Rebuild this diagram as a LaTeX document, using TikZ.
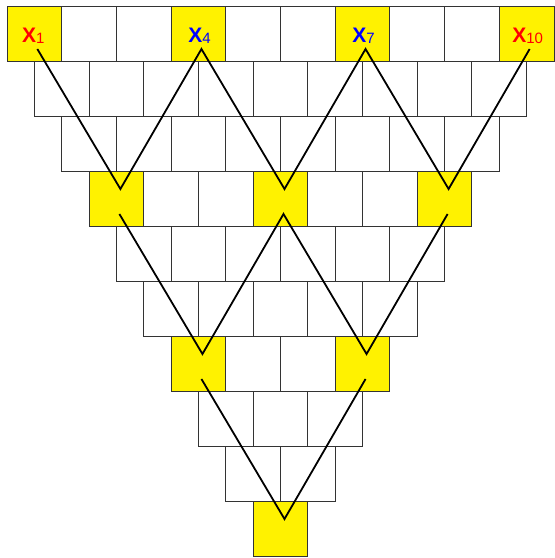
\documentclass[tikz,border=0pt]{standalone}
\usepackage{fontspec}
\setmainfont{Liberation Sans}
\usetikzlibrary{calc}
\tikzset{
  cell/.style={draw=black!80, line width=1pt, minimum width=54.7pt, minimum height=55pt,
    inner sep=0pt, outer sep=0pt, anchor=north west},
  vline/.style={line width=1.8pt, black, line join=miter},
  lab/.style={anchor=base, inner sep=0pt, font=\fontsize{21}{21}\selectfont\bfseries}
}
\newcommand{\lsub}[1]{\raisebox{-1pt}{\fontsize{15}{15}\selectfont\mdseries #1}}
\begin{document}
\begin{tikzpicture}[x=1pt,y=-1pt]
\useasboundingbox (0,0) rectangle (555,558);
\foreach \r in {0,...,9}{
  \pgfmathtruncatemacro\n{9-\r}
  \foreach \i in {0,...,\n}{
    \pgfmathtruncatemacro\hy{and(mod(\r,3)==0, mod(\i,3)==0)}
    \ifnum\hy=1 \def\fc{yellow}\else\def\fc{white}\fi
    \node[cell, fill=\fc] (c-\r-\i) at ({7+27.35*\r+54.7*\i}, {6+55*\r}) {};
    \ifnum\hy=1
      \coordinate (t-\r-\i) at ($(c-\r-\i.north)+(3,43)$);
      \coordinate (a-\r-\i) at ($(c-\r-\i.north)+(4,18)$);
    \fi
  }
}
\draw[vline] (t-0-0) -- (a-3-0) -- (t-0-3) -- (a-3-3) -- (t-0-6) -- (a-3-6) -- (t-0-9);
\draw[vline] (t-3-0) -- (a-6-0) -- (t-3-3) -- (a-6-3) -- (t-3-6);
\draw[vline] (t-6-0) -- (a-9-0) -- (t-6-3);
\node[lab, text=red]  (x1)  at ($(c-0-0.north)+(-1,36)$) {X\lsub{1}};
\node[lab, text=blue] (x4)  at ($(c-0-3.north)+(1,36)$) {X\lsub{4}};
\node[lab, text=blue] (x7)  at ($(c-0-6.north)+(1,36)$) {X\lsub{7}};
\node[lab, text=red]  (x10) at ($(c-0-9.north)+(1,36)$) {X\lsub{10}};
\end{tikzpicture}
\end{document}
